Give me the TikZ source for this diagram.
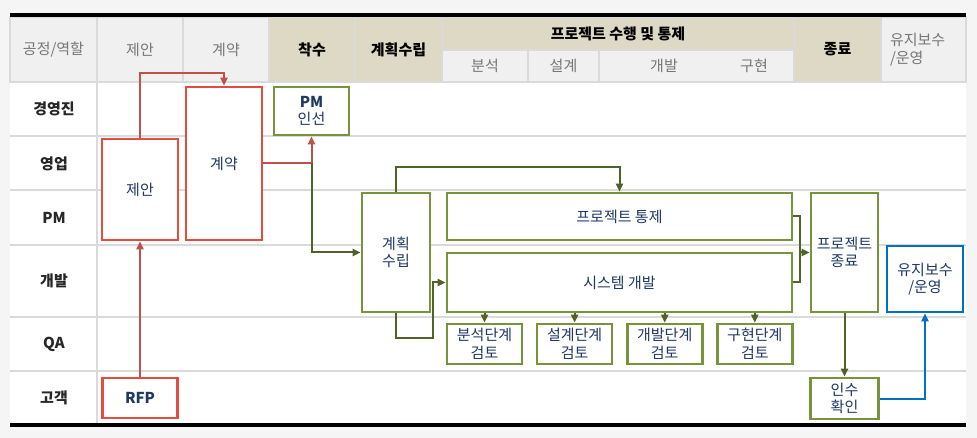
\documentclass[tikz,border=0pt]{standalone}
\usepackage{fontspec}
\setmainfont{Noto Sans CJK KR}
\usepackage{xcolor}
\usepackage{tikz}
\usetikzlibrary{arrows.meta,positioning,calc}
\definecolor{boxred}{RGB}{228,76,64}
\definecolor{arrred}{RGB}{192,80,77}
\definecolor{boxgreen}{RGB}{119,147,60}
\definecolor{arrgreen}{RGB}{79,98,40}
\definecolor{boxblue}{RGB}{0,112,192}
\definecolor{navy}{RGB}{31,56,100}
\definecolor{hdtan}{RGB}{221,217,196}
\definecolor{hdgray}{RGB}{240,240,240}
\definecolor{hdtext}{RGB}{118,118,118}
\definecolor{sepgray}{RGB}{218,218,218}

\begin{document}
\begin{tikzpicture}[
  x=1pt, y=-1pt,
  font=\fontsize{15}{17.5}\selectfont,
  hcell/.style={rectangle, draw=sepgray, line width=1.5pt, inner sep=0pt,
              text=hdtext, align=center},
  hgray/.style={hcell, fill=hdgray},
  htan/.style={hcell, fill=hdtan, text=black, font=\fontsize{15}{17.5}\selectfont\bfseries},
  role/.style={text=black!85, font=\fontsize{15}{17.5}\selectfont\bfseries},
  redbox/.style={rectangle, draw=boxred, line width=2.6pt, fill=white, text=navy,
              align=center, inner sep=0pt},
  greenbox/.style={redbox, draw=boxgreen},
  bluebox/.style={redbox, draw=boxblue},
  revbox/.style={greenbox, minimum width=75pt, minimum height=40pt},
  rarr/.style={-{Triangle[length=8pt,width=7pt]}, line width=2pt, arrred},
  garr/.style={rarr, arrgreen},
  barr/.style={rarr, boxblue},
  rowline/.style={line width=2pt, sepgray}
]
\fill[gray!8] (0,0) rectangle (977,438);
\fill[white] (10,82) rectangle (966,425);

\node[hgray, minimum width=87pt, minimum height=65pt] (hRole) at (53.5,49.5) {공정/역할};
\node[hgray, minimum width=86pt, minimum height=65pt] (hProp) at (140,49.5) {제안};
\node[hgray, minimum width=86pt, minimum height=65pt] (hCont) at (226,49.5) {계약};
\node[htan, minimum width=86pt, minimum height=65pt] (hStart) at (312,49.5) {착수};
\node[htan, minimum width=87pt, minimum height=65pt] (hPlan) at (398.5,49.5) {계획수립};
\node[htan, minimum width=352pt, minimum height=33pt] (hExec) at (618,33.5) {프로젝트 수행 및 통제};
\node[hgray, minimum width=86pt, minimum height=32pt] (hAna) at (485,66) {분석};
\node[hgray, minimum width=71pt, minimum height=32pt] (hDes) at (563.5,66) {설계};
\node[hgray, minimum width=195pt, minimum height=32pt] (hDev) at (696.5,66) {};
\node[text=hdtext] (hDevA) at (664,66) {개발};
\node[text=hdtext] (hDevB) at (754,66) {구현};
\node[htan, minimum width=87pt, minimum height=65pt] (hEnd) at (837.5,49.5) {종료};
\node[hgray, minimum width=85pt, minimum height=65pt, text width=67pt, align=left] (hMnt) at (923.5,49.5) {유지보수\\/운영};

\foreach \y in {82,136.5,190.5,245,317,371}
  \draw[rowline] (10,\y) -- (966,\y);
\draw[rowline] (97,82) -- (97,425);
\draw[line width=3.5pt] (10,15) -- (966,15);
\draw[line width=3.5pt] (10,425) -- (966,425);

\node[role] (rExec) at (54,109) {경영진};
\node[role] (rSales) at (54,163.5) {영업};
\node[role] (rPM) at (54,217.5) {PM};
\node[role] (rDev) at (54,281) {개발};
\node[role] (rQA) at (54,344) {QA};
\node[role] (rCust) at (54,398) {고객};

\node[redbox, minimum width=76pt, minimum height=101pt] (proposal) at (140,189.5) {제안};
\node[redbox, minimum width=76pt, minimum height=153pt] (contract) at (224,163.5) {계약};
\node[redbox, minimum width=75pt, minimum height=40pt] (rfp) at (140,398) {\textbf{RFP}};
\node[greenbox, minimum width=75pt, minimum height=48pt] (pmsel) at (311.5,111) {\textbf{PM}\\인선};
\node[greenbox, minimum width=68pt, minimum height=119pt] (plan) at (396,252.5) {계획\\수립};
\node[greenbox, minimum width=345pt, minimum height=47pt] (control) at (619.5,216.5) {프로젝트 통제};
\node[greenbox, minimum width=345pt, minimum height=59pt] (sysdev) at (619.5,282.5) {시스템 개발};
\node[greenbox, minimum width=67pt, minimum height=119pt] (close) at (844.5,252.5) {프로젝트\\종료};
\node[bluebox, minimum width=76pt, minimum height=66pt] (maint) at (925,279) {유지보수\\/운영};
\node[greenbox, minimum width=68pt, minimum height=41pt] (accept) at (844.5,398.5) {인수\\확인};
\node[revbox] (rev1) at (484.5,344) {분석단계\\검토};
\node[revbox, right=12.5pt of rev1] (rev2) {설계단계\\검토};
\node[revbox, right=12.5pt of rev2] (rev3) {개발단계\\검토};
\node[revbox, right=12.5pt of rev3] (rev4) {구현단계\\검토};

\draw[rarr] (rfp.north) -- (proposal.south);
\draw[rarr] (proposal.north) -- ++(0,-65) -| (contract.north);
\draw[rarr] (contract.east) -| (pmsel.south);
\coordinate (split) at (pmsel.south |- contract.east);
\draw[garr] (split) |- (plan.west);
\draw[garr] (plan.north) -- ++(0,-25) -| (control.north);
\coordinate (loop) at ($(sysdev.west)+(-13,0)$);
\draw[garr] (plan.south) -- ++(0,25) -| (loop) -- (sysdev.west);
\foreach \r in {rev1,rev2,rev3,rev4}
  \draw[garr] (sysdev.south -| \r.north) -- (\r.north);
\coordinate (merge) at ($(close.west)+(-10,0)$);
\draw[garr, -] (control.east) -| (merge);
\draw[garr] (sysdev.east) -| (merge) -- (close.west);
\draw[garr] (close.south) -- (accept.north);
\draw[barr] (accept.east) -| (maint.south);
\end{tikzpicture}
\end{document}
